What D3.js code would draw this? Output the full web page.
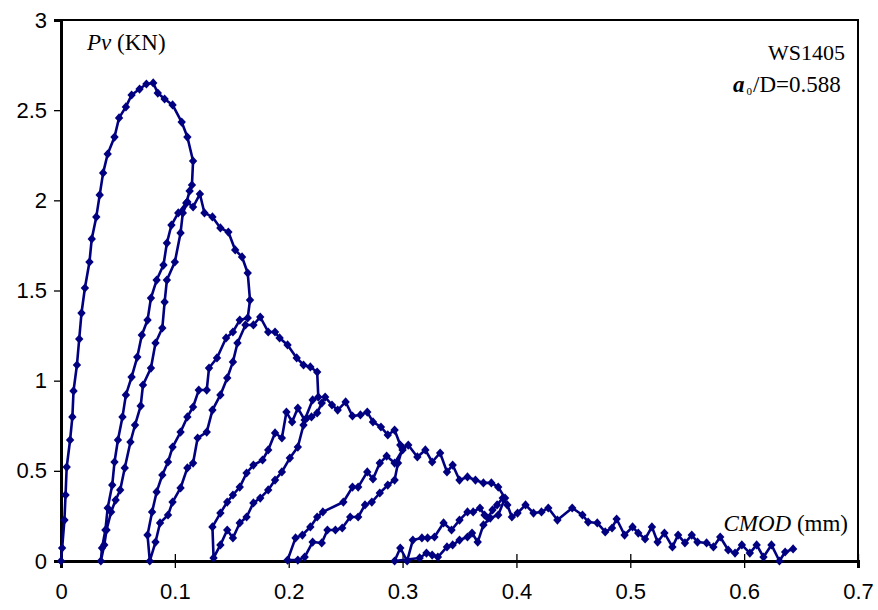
<!DOCTYPE html>
<html>
<head>
<meta charset="utf-8">
<script src="https://cdn.jsdelivr.net/npm/d3@7"></script>
<style>
  html, body { margin: 0; padding: 0; background: #fff; }
  svg { display: block; }
</style>
</head>
<body>
<svg id="chart" width="878" height="610"></svg>
<script>
// Cyclic three-point bending test: vertical load Pv vs crack mouth opening (CMOD)
const cmod = [
  // first loading up to peak and softening
  0.000, 0.001, 0.003, 0.004, 0.005, 0.008, 0.010, 0.011, 0.014, 0.016, 0.018, 0.021, 0.025, 0.027, 0.031, 0.034,
  0.037, 0.041, 0.047, 0.051, 0.057, 0.062, 0.069, 0.075, 0.081, 0.085, 0.091, 0.098, 0.106, 0.111, 0.116, 0.115, 0.113,
  // unloading 1
  0.110, 0.103, 0.097, 0.093, 0.090, 0.084, 0.079, 0.076, 0.071, 0.067, 0.062, 0.057, 0.054, 0.050, 0.047, 0.045,
  0.041, 0.039, 0.036, 0.035,
  // reloading 1
  0.038, 0.040, 0.044, 0.048, 0.052, 0.056, 0.061, 0.065, 0.070, 0.072, 0.079, 0.083, 0.089, 0.091, 0.093, 0.100,
  0.105, 0.107, 0.111, 0.116, 0.122,
  // softening
  0.126, 0.133, 0.140, 0.147, 0.153, 0.159, 0.164, 0.166, 0.164,
  // unloading 2
  0.157, 0.151, 0.145, 0.137, 0.130, 0.128, 0.121, 0.116, 0.111, 0.105, 0.098, 0.094, 0.089, 0.084, 0.080, 0.076, 0.078,
  // reloading 2
  0.083, 0.087, 0.094, 0.098, 0.105, 0.111, 0.116, 0.120, 0.128, 0.133, 0.140, 0.146, 0.151, 0.155, 0.162, 0.169, 0.175,
  // softening
  0.182, 0.188, 0.192, 0.199, 0.207, 0.213, 0.219, 0.225, 0.226,
  // unloading 3
  0.221, 0.214, 0.208, 0.203, 0.198, 0.194, 0.188, 0.182, 0.177, 0.169, 0.163, 0.157, 0.151, 0.146, 0.140, 0.133, 0.134,
  // reloading 3
  0.140, 0.146, 0.151, 0.157, 0.163, 0.169, 0.175, 0.182, 0.188, 0.194, 0.201, 0.208, 0.213, 0.216, 0.220, 0.225,
  0.229, 0.232,
  // softening
  0.238, 0.243, 0.250, 0.256, 0.263, 0.269, 0.274, 0.281, 0.287, 0.293, 0.298, 0.300,
  // unloading 4
  0.293, 0.286, 0.280, 0.274, 0.269, 0.261, 0.256, 0.248, 0.230, 0.225, 0.219, 0.212, 0.206, 0.199,
  // reloading 4
  0.208, 0.214, 0.221, 0.229, 0.234, 0.241, 0.247, 0.254, 0.261, 0.267, 0.273, 0.280, 0.287, 0.293, 0.296, 0.300, 0.305,
  // softening
  0.313, 0.320, 0.326, 0.333, 0.339, 0.344, 0.350, 0.357, 0.364, 0.371, 0.378, 0.384, 0.390,
  // unloading 5
  0.384, 0.377, 0.371, 0.366, 0.361, 0.357, 0.350, 0.344, 0.339, 0.331, 0.326, 0.321, 0.315, 0.293,
  // reloading 5
  0.298, 0.304, 0.309, 0.317, 0.322, 0.328, 0.336, 0.343, 0.350, 0.357, 0.362, 0.368, 0.372, 0.375, 0.379, 0.383, 0.388,
  // tail
  0.392, 0.396, 0.401, 0.408, 0.415, 0.422, 0.428, 0.436, 0.449, 0.458, 0.463, 0.471, 0.478, 0.484, 0.488, 0.495,
  0.502, 0.507, 0.513, 0.519, 0.524, 0.530, 0.537, 0.542, 0.548, 0.554, 0.559, 0.567, 0.573, 0.579, 0.586, 0.592,
  0.598, 0.605, 0.611, 0.617, 0.624, 0.631, 0.636, 0.643
];

const load = [
  0.000, 0.072, 0.227, 0.366, 0.521, 0.671, 0.799, 0.943, 1.087, 1.231, 1.375, 1.514, 1.658, 1.786, 1.908, 2.030,
  2.152, 2.257, 2.351, 2.457, 2.518, 2.584, 2.617, 2.645, 2.651, 2.595, 2.562, 2.529, 2.434, 2.351, 2.218, 2.085, 2.052,
  1.985, 1.930, 1.863, 1.763, 1.641, 1.558, 1.458, 1.336, 1.253, 1.131, 1.020, 0.921, 0.799, 0.671, 0.549, 0.421,
  0.294, 0.172, 0.072, 0.000,
  0.089, 0.172, 0.272, 0.338, 0.394, 0.516, 0.660, 0.754, 0.860, 0.976, 1.070, 1.209, 1.292, 1.436, 1.558, 1.658,
  1.819, 1.930, 1.991, 1.963, 2.035,
  1.930, 1.908, 1.847, 1.824, 1.725, 1.686, 1.597, 1.447, 1.348,
  1.336, 1.270, 1.237, 1.126, 1.070, 0.948, 0.948, 0.854, 0.799, 0.715, 0.632, 0.549, 0.477, 0.383, 0.272, 0.144, 0.000,
  0.105, 0.211, 0.255, 0.327, 0.405, 0.516, 0.543, 0.682, 0.715, 0.837, 0.921, 1.015, 1.104, 1.209, 1.309, 1.309, 1.353,
  1.270, 1.270, 1.237, 1.198, 1.126, 1.087, 1.076, 1.048, 0.909,
  0.893, 0.782, 0.848, 0.771, 0.826, 0.682, 0.710, 0.616, 0.560, 0.532, 0.488, 0.410, 0.366, 0.327, 0.266, 0.189, 0.017,
  0.089, 0.172, 0.128, 0.211, 0.244, 0.322, 0.349, 0.394, 0.449, 0.494, 0.571, 0.632, 0.754, 0.793, 0.799, 0.821,
  0.876, 0.909,
  0.865, 0.837, 0.882, 0.804, 0.810, 0.826, 0.771, 0.743, 0.699, 0.726, 0.643, 0.616,
  0.543, 0.582, 0.543, 0.455, 0.494, 0.410, 0.410, 0.327, 0.272, 0.244, 0.189, 0.144, 0.128, 0.005,
  0.005, 0.022, 0.105, 0.100, 0.172, 0.172, 0.183, 0.244, 0.244, 0.311, 0.327, 0.377, 0.421, 0.449, 0.543, 0.627, 0.643,
  0.577, 0.616, 0.549, 0.599, 0.494, 0.532, 0.449, 0.466, 0.449, 0.433, 0.433, 0.410, 0.349,
  0.255, 0.238, 0.200, 0.105, 0.155, 0.133, 0.116, 0.089, 0.078, 0.022, 0.033, 0.044, 0.017, 0.000,
  0.072, 0.000, 0.116, 0.128, 0.128, 0.133, 0.211, 0.172, 0.227, 0.272, 0.272, 0.294, 0.255, 0.238, 0.283, 0.311, 0.349,
  0.311, 0.244, 0.266, 0.311, 0.266, 0.272, 0.294, 0.227, 0.294, 0.255, 0.216, 0.211, 0.161, 0.183, 0.233, 0.144,
  0.189, 0.155, 0.122, 0.189, 0.105, 0.155, 0.078, 0.144, 0.100, 0.144, 0.105, 0.100, 0.078, 0.133, 0.061, 0.044,
  0.089, 0.044, 0.089, 0.022, 0.089, 0.000, 0.050, 0.067
];

const xTicks = [0, 0.1, 0.2, 0.3, 0.4, 0.5, 0.6, 0.7];
const yTicks = [0, 0.5, 1, 1.5, 2, 2.5, 3];

const svg = d3.select("#chart");
const frame = { left: 61, right: 858, top: 20, bottom: 561 };

const x = d3.scaleLinear().domain([0, 0.7]).range([frame.left, frame.right]);
const y = d3.scaleLinear().domain([0, 3]).range([frame.bottom, frame.top]);

const points = cmod.map((c, i) => [c, load[i]]);
const navy = "#000080";

// plot frame
svg.append("rect")
  .attr("x", frame.left).attr("y", frame.top)
  .attr("width", frame.right - frame.left).attr("height", frame.bottom - frame.top)
  .attr("fill", "none").attr("stroke", "#000").attr("stroke-width", 2);

// y axis with outward ticks
const yAxis = d3.axisLeft(y).tickValues(yTicks).tickSize(7).tickPadding(7)
  .tickFormat(d => d3.format("")(d));
const gy = svg.append("g").attr("transform", `translate(${frame.left},0)`).call(yAxis);
gy.select(".domain").attr("stroke-width", 3);
gy.selectAll(".tick line").attr("stroke-width", 1.3);
gy.selectAll(".tick text")
  .attr("font-family", "'Liberation Sans', Arial, sans-serif")
  .attr("font-size", 22).attr("fill", "#000");

// x axis with ticks crossing the base line
const xAxis = d3.axisBottom(x).tickValues(xTicks).tickSize(7).tickPadding(15)
  .tickFormat(d => d3.format("")(d));
const gx = svg.append("g").attr("transform", `translate(0,${frame.bottom})`).call(xAxis);
gx.select(".domain").attr("stroke-width", 3);
gx.selectAll(".tick line").attr("y1", -7).attr("stroke-width", 1.3);
gx.selectAll(".tick text")
  .attr("font-family", "'Liberation Sans', Arial, sans-serif")
  .attr("font-size", 22).attr("fill", "#000");

// load-CMOD curve
const line = d3.line().x(d => x(d[0])).y(d => y(d[1]));
svg.append("path")
  .datum(points)
  .attr("d", line)
  .attr("fill", "none")
  .attr("stroke", navy)
  .attr("stroke-width", 2.6)
  .attr("stroke-linejoin", "round");

// diamond markers
svg.append("g").selectAll("path")
  .data(points)
  .join("path")
  .attr("transform", d => `translate(${x(d[0])},${y(d[1])})`)
  .attr("d", "M0,-4.6L4.2,0L0,4.6L-4.2,0Z")
  .attr("fill", navy);

// annotations
const serif = "'Liberation Serif', 'Times New Roman', serif";
const pv = svg.append("text").attr("x", 87).attr("y", 50)
  .attr("font-family", serif).attr("font-size", 23).attr("fill", "#000");
pv.append("tspan").attr("font-style", "italic").text("Pv");
pv.append("tspan").text(" (KN)");

svg.append("text").attr("x", 845).attr("y", 60).attr("text-anchor", "end")
  .attr("font-family", serif).attr("font-size", 22).attr("fill", "#000")
  .text("WS1405");

const ad = svg.append("text").attr("x", 733).attr("y", 92)
  .attr("font-family", serif).attr("font-size", 23).attr("fill", "#000");
ad.append("tspan").attr("font-style", "italic").attr("font-weight", "bold").text("a");
ad.append("tspan").attr("font-size", 11).attr("dx", 2).attr("dy", 3).text("0");
ad.append("tspan").attr("dy", -3).attr("dx", 1).text("/D=0.588");

const cm = svg.append("text").attr("x", 848).attr("y", 531).attr("text-anchor", "end")
  .attr("font-family", serif).attr("font-size", 23).attr("fill", "#000");
cm.append("tspan").attr("font-style", "italic").text("CMOD");
cm.append("tspan").text(" (mm)");
</script>
</body>
</html>
